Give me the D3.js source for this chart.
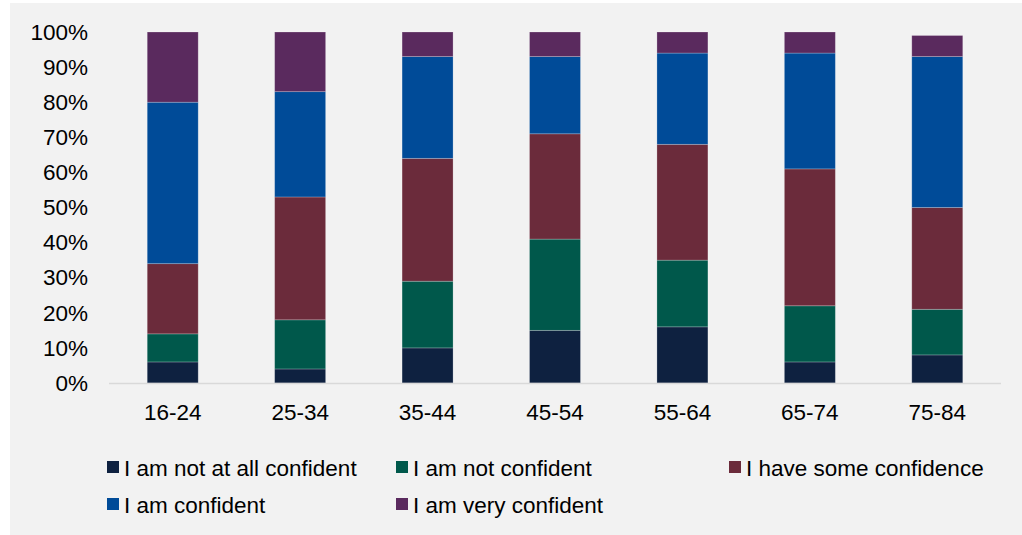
<!DOCTYPE html>
<html>
<head>
<meta charset="utf-8">
<script src="https://cdn.jsdelivr.net/npm/d3@7"></script>
<style>
  html, body { margin: 0; padding: 0; background: #ffffff; }
  svg { display: block; font-family: "Liberation Sans", Arial, sans-serif; }
</style>
</head>
<body>
<svg id="chart" width="1022" height="535"></svg>
<script>
// Age groups along the x axis
const ageGroups = ["16-24", "25-34", "35-44", "45-54", "55-64", "65-74", "75-84"];

// Confidence levels, stacked bottom to top
const levels = [
  "I am not at all confident",
  "I am not confident",
  "I have some confidence",
  "I am confident",
  "I am very confident"
];

// Share of respondents (%) per age group, one array per level
const notAtAllConfident = [6, 4, 10, 15, 16, 6, 8];
const notConfident      = [8, 14, 19, 26, 19, 16, 13];
const someConfidence    = [20, 35, 35, 30, 33, 39, 29];
const confident         = [46, 30, 29, 22, 26, 33, 43];
const veryConfident     = [20, 17, 7, 7, 6, 6, 6];

const yTicks = [0, 10, 20, 30, 40, 50, 60, 70, 80, 90, 100];

const levelColors = ["#0e2140", "#00584b", "#6b2b3b", "#004b98", "#5a2a5e"];

const seriesValues = [notAtAllConfident, notConfident, someConfidence, confident, veryConfident];
const rows = ageGroups.map((g, i) => {
  const r = { group: g };
  levels.forEach((l, j) => { r[l] = seriesValues[j][i]; });
  return r;
});

const svg = d3.select("#chart");

// Panel background
svg.append("rect")
  .attr("x", 10).attr("y", 3)
  .attr("width", 1012).attr("height", 532)
  .attr("fill", "#f2f2f2");

const x = d3.scaleBand()
  .domain(ageGroups)
  .range([109, 1001])
  .paddingInner(0.6)
  .paddingOuter(0.3);

const y = d3.scaleLinear()
  .domain([0, 100])
  .range([383, 32]);

const color = d3.scaleOrdinal().domain(levels).range(levelColors);

const stacked = d3.stack().keys(levels)(rows);

// Stacked bars
svg.append("g")
  .selectAll("g")
  .data(stacked)
  .join("g")
    .attr("fill", d => color(d.key))
  .selectAll("rect")
  .data(d => d)
  .join("rect")
    .attr("x", d => x(d.data.group))
    .attr("width", x.bandwidth())
    .attr("y", d => y(d[1]))
    .attr("height", d => y(d[0]) - y(d[1]))
    .attr("stroke", "rgba(255,255,255,0.28)")
    .attr("stroke-width", 0.8);

// Baseline
svg.append("line")
  .attr("x1", 109).attr("x2", 1001)
  .attr("y1", y(0) + 0.5).attr("y2", y(0) + 0.5)
  .attr("stroke", "#d9d9d9")
  .attr("stroke-width", 1.5);

// Y axis labels
const yAxis = svg.append("g")
  .attr("transform", "translate(109,0)")
  .call(d3.axisLeft(y)
    .tickValues(yTicks)
    .tickFormat(d => d + "%")
    .tickSize(0)
    .tickPadding(21));
yAxis.select(".domain").remove();
yAxis.selectAll("text")
  .attr("fill", "#000000")
  .style("font-size", "22.5px")
  .style("font-family", "'Liberation Sans', Arial, sans-serif");

// X axis labels
const xAxis = svg.append("g")
  .attr("transform", `translate(0,${y(0)})`)
  .call(d3.axisBottom(x).tickSize(0).tickPadding(21));
xAxis.select(".domain").remove();
xAxis.selectAll("text")
  .attr("fill", "#000000")
  .style("font-size", "22.5px")
  .style("font-family", "'Liberation Sans', Arial, sans-serif");

// Legend: three columns, two rows
const legendCols = [107, 396, 729];
const legendRows = [461, 498];
const legend = svg.append("g")
  .selectAll("g")
  .data(levels)
  .join("g")
    .attr("transform", (d, i) => `translate(${legendCols[i % 3]},${legendRows[Math.floor(i / 3)]})`);

legend.append("rect")
  .attr("width", 12).attr("height", 12)
  .attr("fill", d => color(d));

legend.append("text")
  .attr("x", 17)
  .attr("y", 14.5)
  .attr("fill", "#000000")
  .style("font-size", "22.5px")
  .text(d => d);
</script>
</body>
</html>
